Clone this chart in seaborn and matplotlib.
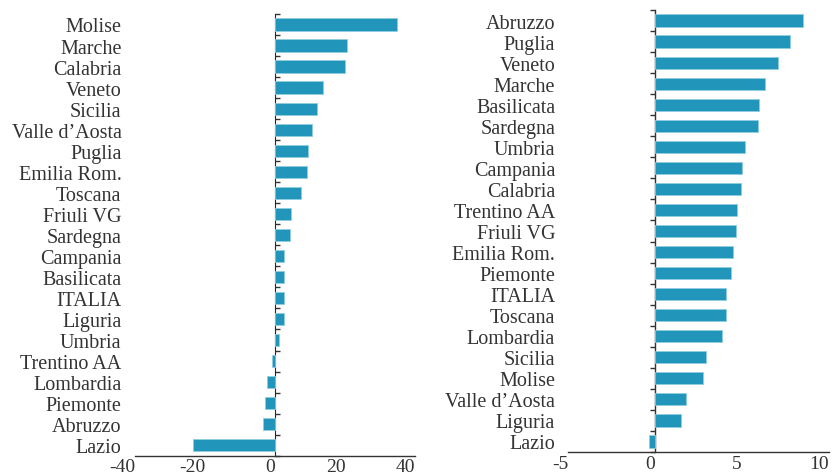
import matplotlib
matplotlib.use('Agg')
import numpy as np
import pandas as pd
import seaborn as sns
import matplotlib.pyplot as plt

# Pannello sinistro
left_regions = ["Molise", "Marche", "Calabria", "Veneto", "Sicilia", "Valle d’Aosta",
                "Puglia", "Emilia Rom.", "Toscana", "Friuli VG", "Sardegna", "Campania",
                "Basilicata", "ITALIA", "Liguria", "Umbria", "Trentino AA", "Lombardia",
                "Piemonte", "Abruzzo", "Lazio"]
left_values = [34.7, 20.5, 20.0, 13.5, 11.9, 10.6, 9.3, 9.1, 7.4, 4.5, 4.2, 2.6,
               2.5, 2.4, 2.4, 0.9, -0.9, -2.4, -2.9, -3.4, -23.4]
left_ticks = [-40, -20, 0, 20, 40]

# Pannello destro
right_regions = ["Abruzzo", "Puglia", "Veneto", "Marche", "Basilicata", "Sardegna",
                 "Umbria", "Campania", "Calabria", "Trentino AA", "Friuli VG",
                 "Emilia Rom.", "Piemonte", "ITALIA", "Toscana", "Lombardia", "Sicilia",
                 "Molise", "Valle d’Aosta", "Liguria", "Lazio"]
right_values = [8.5, 7.76, 7.05, 6.3, 6.0, 5.94, 5.19, 5.0, 4.92, 4.73, 4.63,
                4.48, 4.38, 4.11, 4.11, 3.84, 2.92, 2.77, 1.79, 1.48, -0.35]
right_ticks = [-5, 0, 5, 10]

BAR = "#2196ba"
TXT = "#333333"

sns.set_style("white")
plt.rcParams['font.family'] = ['Liberation Serif', 'DejaVu Serif']
plt.rcParams['axes.unicode_minus'] = False

fig = plt.figure(figsize=(8.32, 4.77), dpi=100)
ax1 = fig.add_axes([0.1627, 0.0426, 0.3365, 0.926])
ax2 = fig.add_axes([0.6831, 0.0503, 0.3130, 0.9266])


def draw(ax, regions, values, ticks, pad):
    df = pd.DataFrame({"regione": regions, "valore": values})
    sns.barplot(data=df, x="valore", y="regione", orient="h", color=BAR,
                width=0.58, saturation=1, edgecolor="#8fcde0", linewidth=0.6, ax=ax)
    n = len(regions)
    ax.set_xlim(ticks[0], ticks[-1])
    ax.set_ylim(n - 0.5, -0.5)
    ax.set_xticks(ticks)
    ax.set_xticklabels([str(t) for t in ticks], ha="right")
    ax.set_xlabel("")
    ax.set_ylabel("")
    for s in ["top", "right", "left"]:
        ax.spines[s].set_visible(False)
    ax.spines["bottom"].set_color(TXT)
    ax.spines["bottom"].set_linewidth(1.0)
    ax.tick_params(axis="y", length=0, pad=pad, labelsize=14.5, labelcolor=TXT)
    ax.tick_params(axis="x", length=3.5, width=1.0, color=TXT, pad=-1.5,
                   labelsize=14, labelcolor=TXT)
    # asse verticale sullo zero
    frac = (0 - ticks[0]) / (ticks[-1] - ticks[0])
    sec = ax.secondary_yaxis(frac)
    sec.set_yticks(np.arange(n + 1) - 0.5)
    sec.set_yticklabels([])
    sec.spines["left"].set_color(TXT)
    sec.spines["left"].set_linewidth(1.0)
    sec.tick_params(axis="y", length=3.5, width=1.0, color=TXT)


draw(ax1, left_regions, left_values, left_ticks, 10)
draw(ax2, right_regions, right_values, right_ticks, 9.5)

fig.savefig("out.png", dpi=100)
